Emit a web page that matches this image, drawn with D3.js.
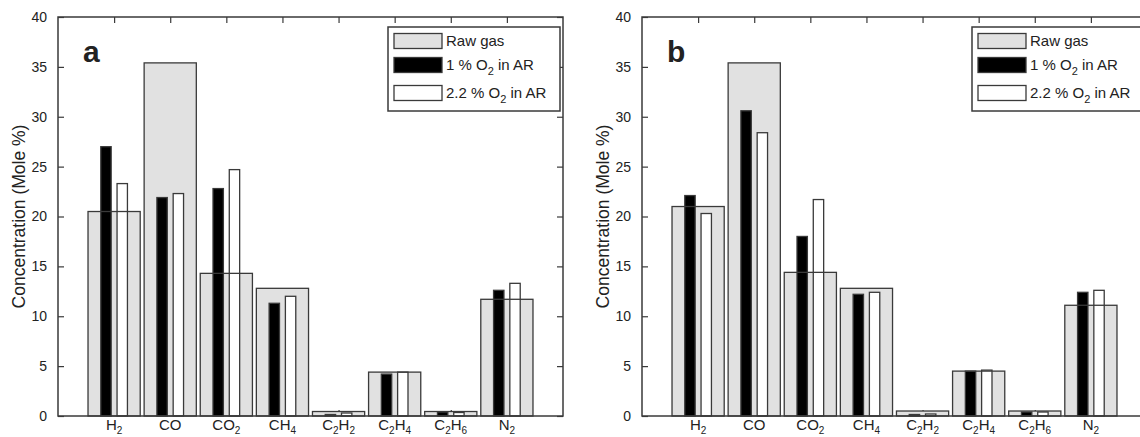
<!DOCTYPE html>
<html>
<head>
<meta charset="utf-8">
<script src="https://cdn.jsdelivr.net/npm/d3@7"></script>
<style>
  body { margin: 0; background: #fff; }
  text { font-family: "Liberation Sans", Arial, sans-serif; fill: #222; }
</style>
</head>
<body>
<div id="chart"></div>
<script>
var svgWidth = 1140;
var svgHeight = 437;

// gases on the x axis, "_n" marks a subscript
var gases = ["H_2", "CO", "CO_2", "CH_4", "C_2H_2", "C_2H_4", "C_2H_6", "N_2"];
var yTicks = [0, 5, 10, 15, 20, 25, 30, 35, 40];
var seriesNames = ["Raw gas", "1 % O_2 in AR", "2.2 % O_2 in AR"];

// panel a
var rawA = [20.5, 35.4, 14.3, 12.8, 0.45, 4.4, 0.45, 11.7];
var o2OneA = [27.0, 21.9, 22.8, 11.3, 0.15, 4.2, 0.4, 12.6];
var o2TwoA = [23.3, 22.3, 24.7, 12.0, 0.3, 4.4, 0.35, 13.3];

// panel b
var rawB = [21.0, 35.4, 14.4, 12.8, 0.5, 4.5, 0.5, 11.1];
var o2OneB = [22.1, 30.6, 18.0, 12.2, 0.15, 4.5, 0.4, 12.4];
var o2TwoB = [20.3, 28.4, 21.7, 12.4, 0.2, 4.6, 0.4, 12.6];

var axisColor = "#3a3a3a";
var rawFill = "#e1e1e1";

var svg = d3.select("#chart")
  .append("svg")
  .attr("width", svgWidth)
  .attr("height", svgHeight);

// write a label with subscripts into a text node
function subText(sel, label, subSize, drop) {
  var parts = label.split(/(_\d)/).filter(p => p.length);
  var lowered = false;
  parts.forEach(function(p) {
    if (p[0] === "_") {
      sel.append("tspan")
        .attr("dy", lowered ? 0 : drop)
        .style("font-size", subSize + "px")
        .text(p.slice(1));
      lowered = true;
    } else {
      sel.append("tspan")
        .attr("dy", lowered ? -drop : 0)
        .text(p);
      lowered = false;
    }
  });
}

function drawPanel(left, letter, raw, one, two) {
  var top = 17, bottom = 416, plotW = 505;
  var right = left + plotW;

  var x = d3.scaleLinear().domain([0, gases.length + 1]).range([left, right]);
  var y = d3.scaleLinear().domain([0, 40]).range([bottom, top]);
  var unit = x(1) - x(0);

  var g = svg.append("g");

  // ticks (inward) drawn under the bars
  g.append("g")
    .attr("transform", `translate(${left},0)`)
    .call(d3.axisLeft(y).tickValues(yTicks).tickSize(-6).tickPadding(11).tickFormat(d3.format("d")))
    .call(a => a.select(".domain").remove())
    .call(a => a.selectAll("line").attr("stroke", axisColor).attr("stroke-width", 1.2))
    .call(a => a.selectAll("text").style("font-size", "14px").attr("fill", "#222")
      .style("font-family", "'Liberation Sans', Arial, sans-serif"));

  g.append("g")
    .attr("transform", `translate(${right},0)`)
    .call(d3.axisRight(y).tickValues(yTicks).tickSize(-6).tickFormat(""))
    .call(a => a.select(".domain").remove())
    .call(a => a.selectAll("line").attr("stroke", axisColor).attr("stroke-width", 1.2));

  var catPos = gases.map((d, i) => i + 1);
  g.append("g")
    .attr("transform", `translate(0,${top})`)
    .call(d3.axisTop(x).tickValues(catPos).tickSize(-6).tickFormat(""))
    .call(a => a.select(".domain").remove())
    .call(a => a.selectAll("line").attr("stroke", axisColor).attr("stroke-width", 1.2));

  g.append("g")
    .attr("transform", `translate(0,${bottom})`)
    .call(d3.axisBottom(x).tickValues(catPos).tickSize(-6).tickFormat(""))
    .call(a => a.select(".domain").remove())
    .call(a => a.selectAll("line").attr("stroke", axisColor).attr("stroke-width", 1.2));

  var rawW = 0.93, thinW = 0.185, off = 0.145;

  // raw gas fill
  g.selectAll(".rawFill")
    .data(raw)
    .enter()
    .append("rect")
    .attr("x", (d, i) => x(i + 1 - rawW / 2))
    .attr("y", d => y(d))
    .attr("width", rawW * unit)
    .attr("height", d => y(0) - y(d))
    .attr("fill", rawFill);

  // 1 % O2 bars
  g.selectAll(".one")
    .data(one)
    .enter()
    .append("rect")
    .attr("x", (d, i) => x(i + 1 - off - thinW / 2))
    .attr("y", d => y(d))
    .attr("width", thinW * unit)
    .attr("height", d => y(0) - y(d))
    .attr("fill", "#000")
    .attr("stroke", axisColor)
    .attr("stroke-width", 1.3);

  // 2.2 % O2 bars
  g.selectAll(".two")
    .data(two)
    .enter()
    .append("rect")
    .attr("x", (d, i) => x(i + 1 + off - thinW / 2))
    .attr("y", d => y(d))
    .attr("width", thinW * unit)
    .attr("height", d => y(0) - y(d))
    .attr("fill", "#fff")
    .attr("stroke", axisColor)
    .attr("stroke-width", 1.3);

  // raw gas outline on top
  g.selectAll(".rawLine")
    .data(raw)
    .enter()
    .append("rect")
    .attr("x", (d, i) => x(i + 1 - rawW / 2))
    .attr("y", d => y(d))
    .attr("width", rawW * unit)
    .attr("height", d => y(0) - y(d))
    .attr("fill", "none")
    .attr("stroke", axisColor)
    .attr("stroke-width", 1.3);

  // box
  g.append("rect")
    .attr("x", left)
    .attr("y", top)
    .attr("width", plotW)
    .attr("height", bottom - top)
    .attr("fill", "none")
    .attr("stroke", axisColor)
    .attr("stroke-width", 1.5);

  // category labels
  gases.forEach(function(lab, i) {
    var t = g.append("text")
      .attr("x", x(i + 1))
      .attr("y", 430)
      .attr("text-anchor", "middle")
      .style("font-size", "15px");
    subText(t, lab, 10, 3.5);
  });

  // y axis title
  g.append("text")
    .attr("transform", `translate(${left - 33},${(top + bottom) / 2}) rotate(-90)`)
    .attr("text-anchor", "middle")
    .style("font-size", "17.5px")
    .text("Concentration (Mole %)");

  // panel letter
  g.append("text")
    .attr("x", left + 25)
    .attr("y", 62)
    .style("font-size", "30px")
    .style("font-weight", "bold")
    .attr("fill", "#000")
    .text(letter);

  // legend
  var lx = right - 175, ly = 27, lw = 172, lh = 84;
  var lg = g.append("g");
  lg.append("rect")
    .attr("x", lx).attr("y", ly).attr("width", lw).attr("height", lh)
    .attr("fill", "#fff").attr("stroke", axisColor).attr("stroke-width", 1.5);

  var swFill = [rawFill, "#000", "#fff"];
  var rowY = [41, 65, 93];
  seriesNames.forEach(function(name, i) {
    lg.append("rect")
      .attr("x", lx + 6).attr("y", rowY[i] - 7.5)
      .attr("width", 48).attr("height", 15)
      .attr("fill", swFill[i]).attr("stroke", axisColor).attr("stroke-width", 1.3);
    var t = lg.append("text")
      .attr("x", lx + 58)
      .attr("y", rowY[i] + 5)
      .style("font-size", "15px");
    subText(t, name, 11, 5);
  });
}

drawPanel(58, "a", rawA, o2OneA, o2TwoA);
drawPanel(642, "b", rawB, o2OneB, o2TwoB);
</script>
</body>
</html>
